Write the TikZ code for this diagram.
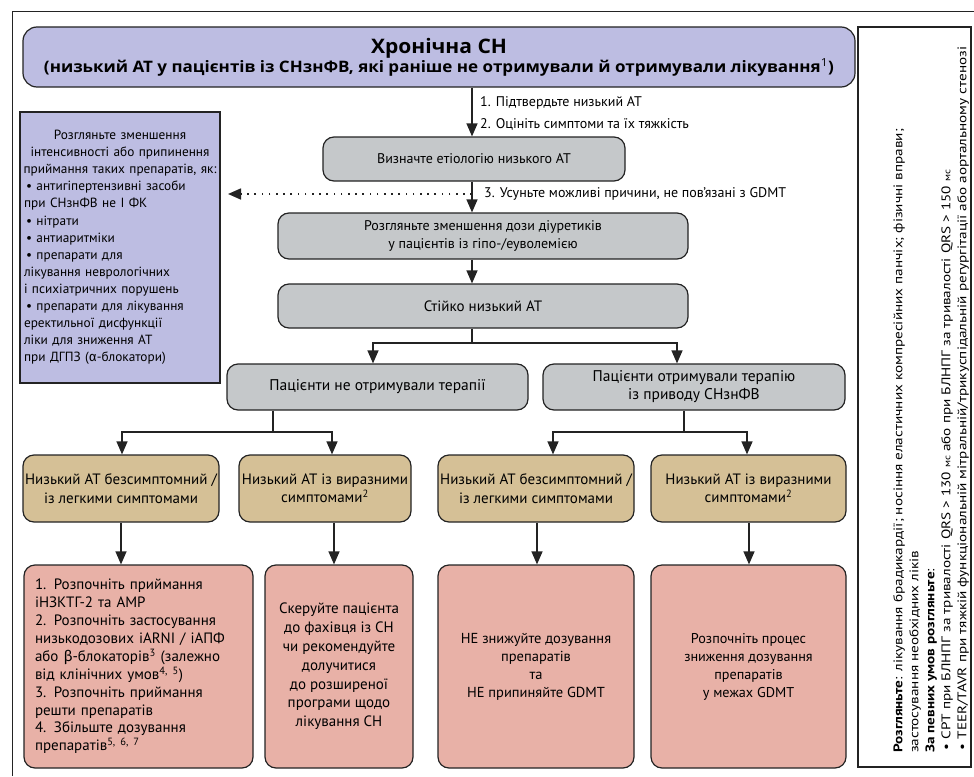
\documentclass[tikz,border=0pt]{standalone}
\usepackage{fontspec}
\setmainfont{PT Sans}
\newfontfamily\grk{Fira Sans}
\newfontfamily\titlefont{Open Sans}
\usetikzlibrary{arrows.meta}
\definecolor{cPurple}{RGB}{189,189,226}
\definecolor{cGray}{RGB}{197,200,202}
\definecolor{cTan}{RGB}{213,192,150}
\definecolor{cPink}{RGB}{232,177,167}
\definecolor{cLine}{RGB}{35,35,35}
\newsavebox\fitbox
\newdimen\fitw
\newcommand\fitto[2]{\sbox\fitbox{#2}\fitw=\wd\fitbox\pgfmathsetmacro\fitscale{#1/\fitw}\scalebox{\fitscale}[1]{\usebox\fitbox}}
\begin{document}
\sbox\fitbox{\fontsize{12.5}{16}\selectfont\textbf{Розгляньте}: лікування брадикардії; носіння еластичних компресійних панчіх; фізичні вправи;}%
\fitw=\wd\fitbox
\pgfmathsetmacro\sidescale{624/\fitw}%
\begin{tikzpicture}[x=1pt,y=-1pt,
 every node/.style={font=\fontsize{14}{17.5}\selectfont},
 rbox/.style={draw=cLine, line width=1.2pt, rounded corners=11pt, align=center, inner sep=0pt},
 graybox/.style={rbox, fill=cGray},
 tanbox/.style={rbox, fill=cTan, minimum height=67pt, font=\fontsize{15}{18.5}\selectfont},
 pinkbox/.style={rbox, fill=cPink, minimum height=203pt},
 arr/.style={draw=cLine, line width=1.2pt, -{Triangle[length=13pt,width=11pt]}},
 link/.style={draw=cLine, line width=1.2pt},
 dotarr/.style={draw=cLine, line width=1.6pt, dash pattern=on 1.6pt off 5.6pt, -{Triangle[length=13pt,width=11pt]}},
 lbl/.style={anchor=west, inner sep=0pt},
]
\useasboundingbox (0,0) rectangle (974,776);
% outer frame
\draw[line width=1pt, cLine] (12,776) -- (12,12) -- (974,12);

% title
\node[rbox, fill=cPurple, minimum width=832pt, minimum height=60pt, rounded corners=14pt] (title) at (439,57)
 {{\titlefont\bfseries\fontsize{20}{22}\selectfont\fitto{136}{Хронічна СН}}\\
  {\titlefont\bfseries\fontsize{15.8}{18.5}\selectfont\fitto{790}{(низький АТ у пацієнтів із СНзнФВ, які раніше не отримували й отримували лікування\textsuperscript{\mdseries 1})}}};

% left purple box
\node[draw=cLine, line width=1.2pt, fill=cPurple, minimum width=200pt, minimum height=271pt, inner sep=0pt,
      text width=192pt, align=left, font=\fontsize{13.3}{17.1}\selectfont] (purple) at (120,247.5) {%
\makebox[192pt]{Розгляньте зменшення}\\
\makebox[192pt]{інтенсивності або припинення}\\
\makebox[192pt]{приймання таких препаратів, як:}\\
\hspace*{2pt}• антигіпертензивні засоби\\
при СНзнФВ не І ФК\\
\hspace*{2pt}• нітрати\\
\hspace*{2pt}• антиаритміки\\
\hspace*{2pt}• препарати для\\
лікування неврологічних\\
і психіатричних порушень\\
\hspace*{2pt}• препарати для лікування\\
еректильної дисфункції\\
ліки для зниження АТ\\
при ДГПЗ ({\grk α}-блокатори)};

% main column
\node[graybox, minimum width=302pt, minimum height=44pt] (etio) at (474,159) {Визначте етіологію низького АТ};
\node[graybox, minimum width=410pt, minimum height=46pt] (diur) at (483,236) {Розгляньте зменшення дози діуретиків\\у пацієнтів із гіпо-/еуволемією};
\node[graybox, minimum width=410pt, minimum height=44pt, font=\fontsize{15}{18}\selectfont] (stiy) at (483,306) {Стійко низький АТ};
\node[graybox, minimum width=301pt, minimum height=46pt, font=\fontsize{15.5}{18}\selectfont] (g1) at (377.5,387) {Пацієнти не отримували терапії};
\node[graybox, minimum width=302pt, minimum height=46pt, font=\fontsize{15.5}{18}\selectfont] (g2) at (694,387) {Пацієнти отримували терапію\\із приводу СНзнФВ};

% tan boxes
\node[tanbox, minimum width=196pt] (t1) at (121,488.5) {Низький АТ безсимптомний /\\із легкими симптомами};
\node[tanbox, minimum width=172pt] (t2) at (325,488.5) {Низький АТ із виразними\\симптомами\textsuperscript{2}};
\node[tanbox, minimum width=196pt] (t3) at (536,488.5) {Низький АТ безсимптомний /\\із легкими симптомами};
\node[tanbox, minimum width=195pt] (t4) at (748.5,488.5) {Низький АТ із виразними\\симптомами\textsuperscript{2}};

% pink boxes
\node[pinkbox, minimum width=229pt, text width=207pt, align=left, font=\fontsize{15}{17.9}\selectfont] (p1) at (138.5,666.5)
 {1. Розпочніть приймання\\ іНЗКТГ-2 та АМР\\ 2. Розпочніть застосування\\ низькодозових іARNI / іАПФ\\ або {\grk β}-блокаторів\textsuperscript{3} (залежно\\ від клінічних умов\textsuperscript{4, 5})\\ 3. Розпочніть приймання\\ решти препаратів\\ 4. Збільште дозування\\ препаратів\textsuperscript{5, 6, 7}};
\node[pinkbox, minimum width=148pt, font=\fontsize{15}{18.8}\selectfont] (p2) at (339,666.5)
 {Скеруйте пацієнта\\до фахівця із СН\\чи рекомендуйте\\долучитися\\до розширеної\\програми щодо\\лікування СН};
\node[pinkbox, minimum width=196pt, font=\fontsize{14.5}{18}\selectfont] (p3) at (536,666.5)
 {НЕ знижуйте дозування\\препаратів\\та\\НЕ припиняйте GDMT};
\node[pinkbox, minimum width=195pt, font=\fontsize{14.2}{18}\selectfont] (p4) at (748.5,666.5)
 {Розпочніть процес\\зниження дозування\\препаратів\\у межах GDMT};

% right panel
\node[draw=cLine, line width=1.2pt, minimum width=113pt, minimum height=740pt, inner sep=0pt] (panel) at (914.5,397) {};
\node[rotate=90, anchor=north west, inner sep=0pt, font=\fontsize{12.5}{16}\selectfont] (side) at (891,753)
 {\scalebox{\sidescale}[1]{\begin{tabular}{@{}l@{}}
  \textbf{Розгляньте}: лікування брадикардії; носіння еластичних компресійних панчіх; фізичні вправи;\\
  застосування необхідних ліків\\
  \textbf{За певних умов розгляньте}:\\
  \,• СРТ при БЛНПГ за тривалості QRS > 130 {\small мс} або при БЛНПГ за тривалості QRS > 150 {\small мс}\\
  \,• TEER/TAVR при тяжкій функціональній мітральній/трикуспідальній регургітації або аортальному стенозі
  \end{tabular}}};

% labels
\node[lbl] (l1) at (480,103) {1. Підтвердьте низький АТ};
\node[lbl] (l2) at (480,124) {2. Оцініть симптоми та їх тяжкість};
\node[lbl] (l3) at (484,194) {3. Усуньте можливі причини, не пов’язані з GDMT};

% coordinates for connector columns
\coordinate (cA) at (472,0);
\coordinate (dotsrc) at (472,194);
\coordinate (dotend) at (228,194);
\coordinate (b1) at (472,343);
\coordinate (cG1) at (373,0);
\coordinate (cG2) at (677,0);
\coordinate (b2) at (273,432);
\coordinate (b3) at (684,432);
\coordinate (cL1) at (122,0);
\coordinate (cL2) at (332,0);
\coordinate (cR1) at (553,0);
\coordinate (cR2) at (747,0);
\coordinate (dL1) at (121,0);
\coordinate (dL2) at (334,0);
\coordinate (dR1) at (537,0);
\coordinate (dR2) at (749,0);

% connectors
\draw[arr] (title.south -| cA) -- (etio.north -| cA);
\draw[arr] (etio.south -| cA) -- (diur.north -| cA);
\draw[dotarr] (dotsrc) -- (dotend);
\draw[arr] (diur.south -| cA) -- (stiy.north -| cA);
\draw[link] (stiy.south -| cA) -- (b1);
\draw[arr] (b1) -| (g1.north -| cG1);
\draw[arr] (b1) -| (g2.north -| cG2);
\draw[link] (g1.south -| b2) -- (b2);
\draw[arr] (b2) -| (t1.north -| cL1);
\draw[arr] (b2) -| (t2.north -| cL2);
\draw[link] (g2.south -| b3) -- (b3);
\draw[arr] (b3) -| (t3.north -| cR1);
\draw[arr] (b3) -| (t4.north -| cR2);
\draw[arr] (t1.south -| dL1) -- (p1.north -| dL1);
\draw[arr] (t2.south -| dL2) -- (p2.north -| dL2);
\draw[arr] (t3.south -| dR1) -- (p3.north -| dR1);
\draw[arr] (t4.south -| dR2) -- (p4.north -| dR2);
\end{tikzpicture}
\end{document}
